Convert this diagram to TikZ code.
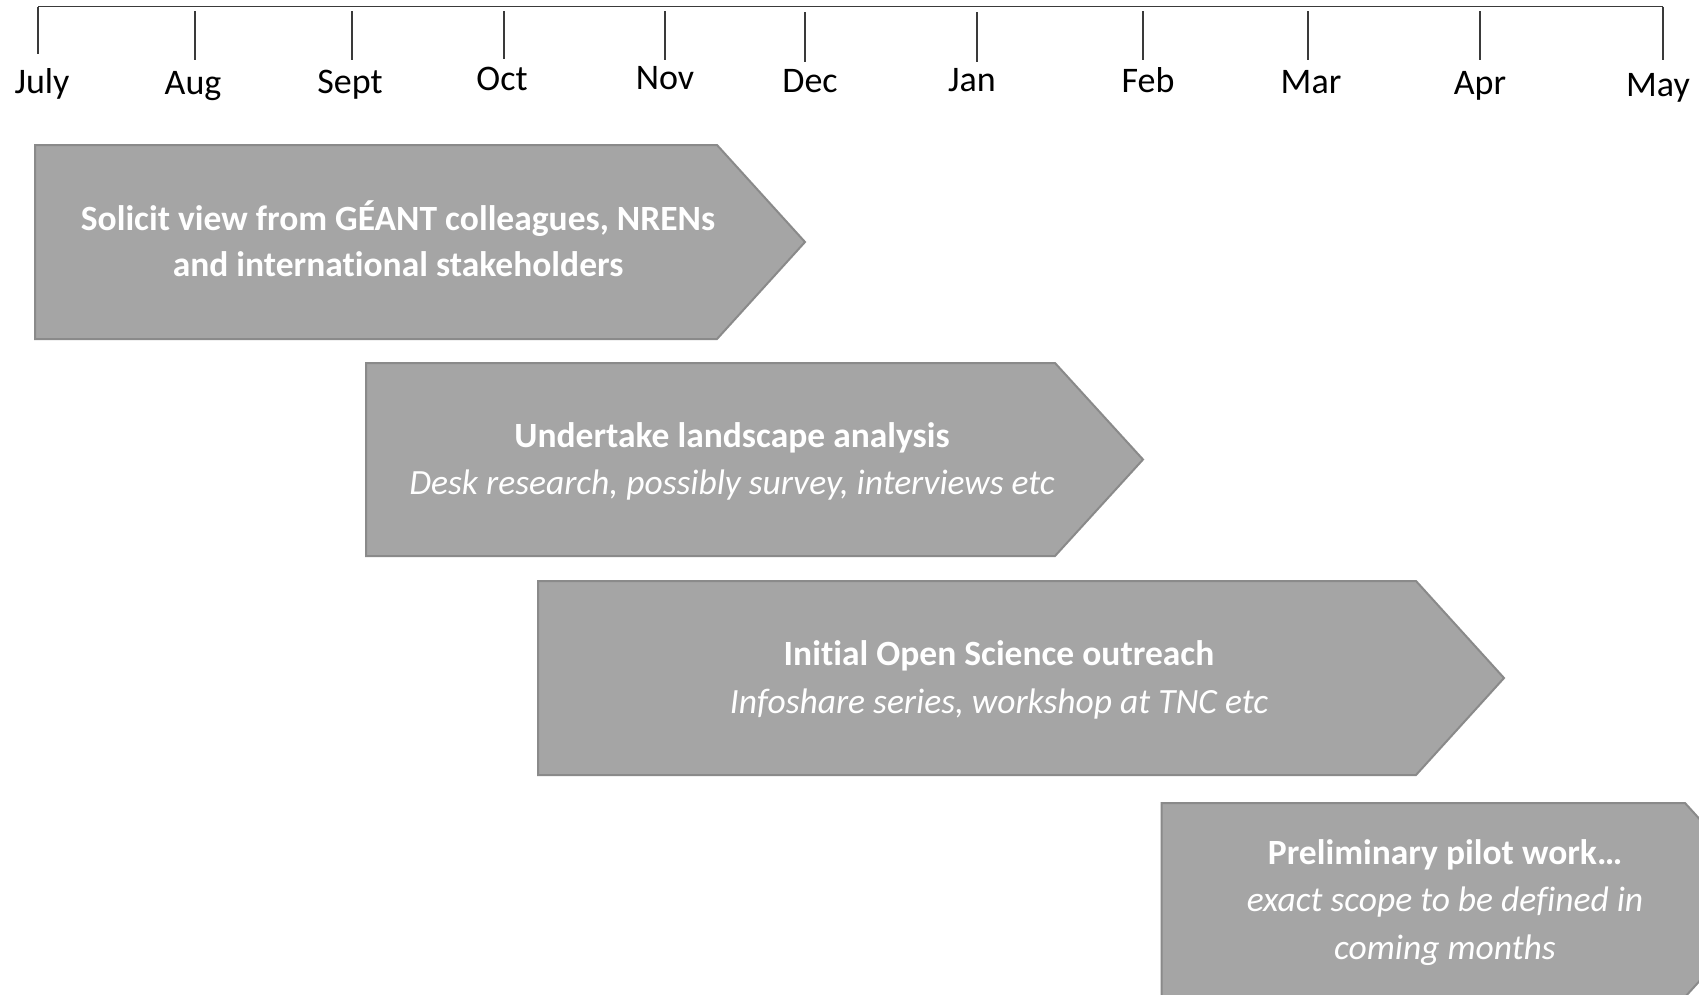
\documentclass[tikz,border=0pt]{standalone}
\usepackage{fontspec}
\setmainfont[Ligatures=NoCommon]{Carlito}
\definecolor{boxfill}{HTML}{A5A5A5}
\definecolor{boxline}{HTML}{8A8A8A}
\definecolor{axisline}{HTML}{3A3A3A}
\begin{document}
\begin{tikzpicture}[x=1pt,y=-1pt,
  axis/.style={draw=axisline,line width=1.4pt},
  tickline/.style={draw=axisline,line width=1.1pt},
  month/.style={anchor=base,inner sep=0pt,font=\fontsize{36}{44}\selectfont,text=black},
  phase/.style={fill=boxfill,draw=boxline,line width=2pt,line join=miter},
  headtxt/.style={anchor=base,inner sep=0pt,text=white,font=\fontsize{35.5}{44}\selectfont\bfseries},
  subtxt/.style={anchor=base,inner sep=0pt,text=white,font=\fontsize{35.5}{44}\selectfont\itshape}]
\useasboundingbox (0,0) rectangle (1699,994);
\clip (0,0) rectangle (1699,994);
\fill[white] (0,0) rectangle (1699,994);

% timeline
\coordinate (tl0) at (38,6.5);
\coordinate (tl1) at (1663,6.5);
\draw[axis] (tl0) -- (tl1);
\foreach \nm/\x/\top/\bot in {July/38/6.5/54, Aug/195/11/60, Sept/352/11/60, Oct/504/11/59, Nov/665/11/60, Dec/805/12/62, Jan/977/12/62, Feb/1143/11/60, Mar/1308/11/60, Apr/1480/11/60, May/1663/6.5/60}{
  \coordinate (t\nm) at (\x,\top);
  \coordinate (b\nm) at (\x,\bot);
  \draw[tickline] (t\nm) -- (b\nm);
}
\node[month] (mJuly) at (42,93) {July};
\node[month] (mAug)  at (193,94) {Aug};
\node[month] (mSept) at (350,93) {Sept};
\node[month] (mOct)  at (502,90) {Oct};
\node[month] (mNov)  at (665,89) {Nov};
\node[month] (mDec)  at (810,92) {Dec};
\node[month] (mJan)  at (972,91) {Jan};
\node[month] (mFeb)  at (1148,92) {Feb};
\node[month] (mMar)  at (1311,93) {Mar};
\node[month] (mApr)  at (1480,94) {Apr};
\node[month] (mMay)  at (1658,96) {May};

% phase arrows
\draw[phase] (35,145) -- (717,145) -- (805,242) -- (717,339) -- (35,339) -- cycle;
\draw[phase] (366,363) -- (1055,363) -- (1143,459.5) -- (1055,556) -- (366,556) -- cycle;
\draw[phase] (538,581) -- (1416,581) -- (1504,678) -- (1416,775) -- (538,775) -- cycle;
\draw[phase] (1161.5,803) -- (1685,803) -- (1773,900) -- (1685,997) -- (1161.5,997) -- cycle;

\node[headtxt] (p1a) at (398,230) {Solicit view from GÉANT colleagues, NRENs};
\node[headtxt] (p1b) at (398,276) {and international stakeholders};

\node[headtxt] (p2a) at (732,447) {Undertake landscape analysis};
\node[subtxt]  (p2b) at (732,494) {Desk research, possibly survey, interviews etc};

\node[headtxt] (p3a) at (999,665) {Initial Open Science outreach};
\node[subtxt]  (p3b) at (999,713) {Infoshare series, workshop at TNC etc};

\node[headtxt] (p4a) at (1445,864) {Preliminary pilot work…};
\node[subtxt]  (p4b) at (1445,911) {exact scope to be defined in};
\node[subtxt]  (p4c) at (1445,959) {coming months};
\end{tikzpicture}
\end{document}
